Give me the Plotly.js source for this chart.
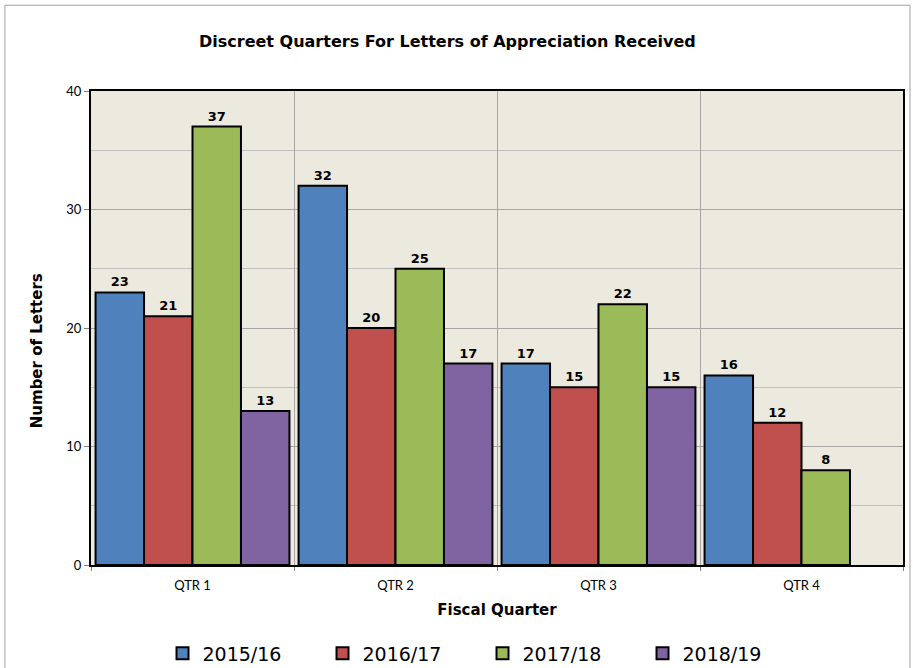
<!DOCTYPE html>
<html>
<head>
<meta charset="utf-8">
<script src="https://cdn.plot.ly/plotly-3.0.1.min.js"></script>
<style>html,body{margin:0;padding:0;background:#fff;}#chart{width:913px;height:668px;}</style>
</head>
<body>
<div id="chart"></div>
<script>
var quarters = ["QTR 1", "QTR 2", "QTR 3", "QTR 4"];
var seriesNames = ["2015/16", "2016/17", "2017/18", "2018/19"];
var v2015 = [23, 32, 17, 16];
var v2016 = [21, 20, 15, 12];
var v2017 = [37, 25, 22, 8];
var v2018 = [13, 17, 15, null];
var colors = ["#4F81BD", "#C0504D", "#9BBB59", "#8064A2"];
var allValues = [v2015, v2016, v2017, v2018];

var positions = quarters.map(function (q, i) { return i; });
var boundaries = [-0.5, 0.5, 1.5, 2.5, 3.5];

var traces = allValues.map(function (vals, k) {
  return {
    type: "bar",
    name: seriesNames[k],
    x: positions,
    y: vals,
    text: vals.map(function (v) { return v === null ? "" : String(v); }),
    textposition: "outside",
    cliponaxis: false,
    textfont: {family: "DejaVu Sans", size: 13, color: "#000", weight: "bold"},
    marker: {color: colors[k], line: {color: "#000", width: 2}},
    hoverinfo: "x+y"
  };
});
traces.push({type: "scatter", x: [-0.5, 3.5], y: [0, 0], xaxis: "x2", mode: "markers",
  marker: {opacity: 0}, showlegend: false, hoverinfo: "skip"});

var layout = {
  width: 913, height: 668,
  margin: {l: 91, r: 10, t: 91, b: 103},
  paper_bgcolor: "#fff",
  plot_bgcolor: "#ECE9DF",
  barmode: "group",
  bargap: 0.045,
  bargroupgap: 0,
  title: {text: "<b>Discreet Quarters For Letters of Appreciation Received</b>",
    font: {family: "DejaVu Sans", size: 16, color: "#000"}, x: 0.49, xanchor: "center",
    yref: "container", y: 0.938, yanchor: "middle"},
  xaxis: {
    range: [-0.5, 3.5], tickvals: positions, ticktext: quarters,
    showgrid: false, ticks: "", zeroline: false, ticklabelstandoff: 7,
    tickfont: {family: "Lato", size: 13, color: "#000"},
    title: {text: "<b>Fiscal Quarter</b>", font: {family: "DejaVu Sans", size: 15, color: "#000"}, standoff: 13},
    showline: true, linecolor: "#000", linewidth: 2, mirror: true
  },
  xaxis2: {
    overlaying: "x", range: [-0.5, 3.5], tickvals: boundaries, showticklabels: false,
    showgrid: true, gridcolor: "#A6A6A6", gridwidth: 1, ticks: "outside", ticklen: 5,
    tickcolor: "#808080", zeroline: false, side: "bottom", layer: "below traces"
  },
  yaxis: {
    range: [0, 40], dtick: 10, tick0: 0,
    showgrid: true, gridcolor: "#A6A6A6", gridwidth: 1,
    minor: {dtick: 5, showgrid: true, gridcolor: "#C0C0C0", gridwidth: 1},
    ticks: "outside", ticklen: 5, tickcolor: "#808080",
    tickfont: {family: "Lato", size: 13, color: "#000"},
    zeroline: false,
    showline: true, linecolor: "#000", linewidth: 2, mirror: true
  },
  annotations: [{
    text: "<b>Number of Letters</b>", xref: "paper", yref: "paper",
    x: -0.0665, y: 0.451, xanchor: "center", yanchor: "middle", textangle: -90,
    showarrow: false, font: {family: "DejaVu Sans", size: 15, color: "#000"}
  }],
  legend: {
    orientation: "h", xref: "container", x: 0.178, xanchor: "left",
    yref: "container", y: 0.022, yanchor: "middle",
    bgcolor: "rgba(0,0,0,0)",
    font: {family: "DejaVu Sans", size: 19, color: "#000"},
    entrywidth: 115, itemwidth: 30, traceorder: "normal"
  },
  shapes: [{
    type: "rect", xref: "paper", yref: "paper",
    x0: -0.106, x1: 1.0086, y0: -0.25, y1: 1.181,
    line: {color: "#A0A0A0", width: 1}, fillcolor: "rgba(0,0,0,0)", layer: "below"
  }]
};

Plotly.newPlot("chart", traces, layout, {displayModeBar: false, staticPlot: true});
</script>
</body>
</html>
